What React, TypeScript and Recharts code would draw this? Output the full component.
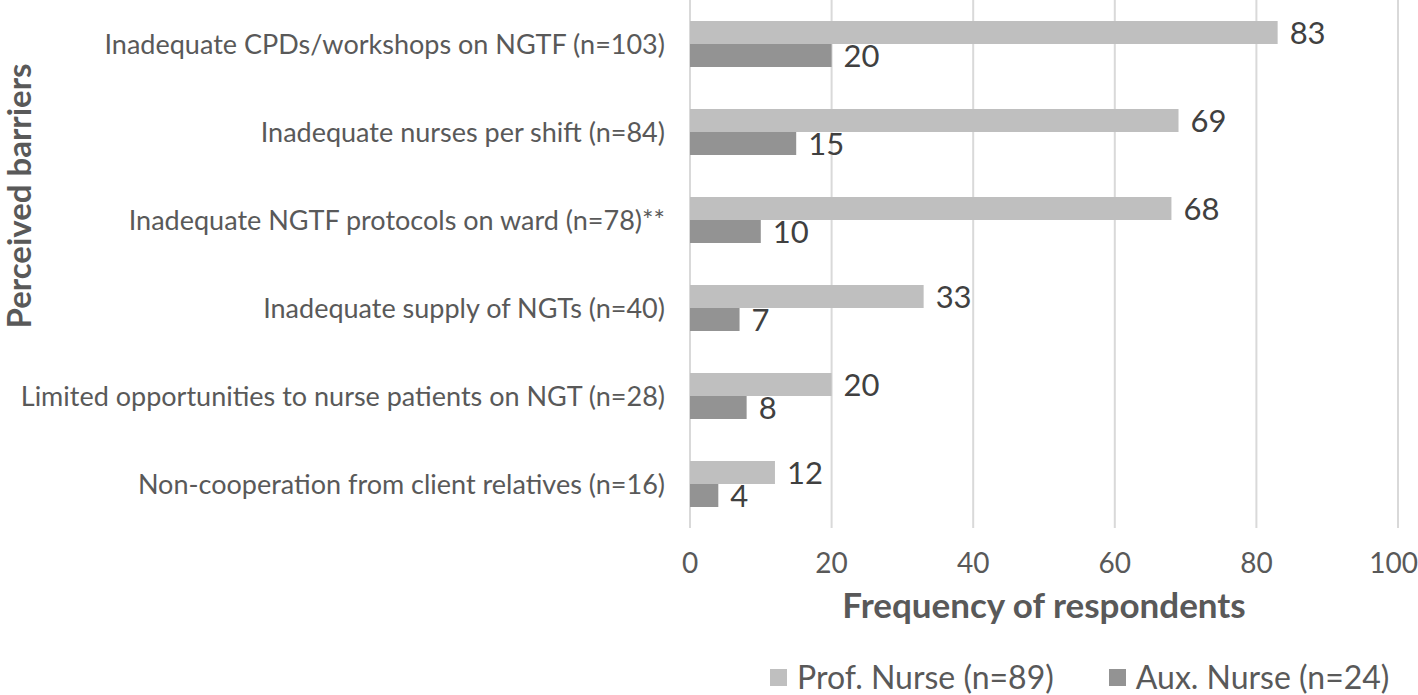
import { BarChart, Bar, XAxis, YAxis, CartesianGrid, LabelList, Legend, Label } from "recharts"

const categories = [
  "Inadequate CPDs/workshops on NGTF (n=103)",
  "Inadequate nurses per shift (n=84)",
  "Inadequate NGTF protocols on ward (n=78)**",
  "Inadequate supply of NGTs (n=40)",
  "Limited opportunities to nurse patients on NGT (n=28)",
  "Non-cooperation from client relatives (n=16)",
]
const profNurse = [83, 69, 68, 33, 20, 12]
const auxNurse = [20, 15, 10, 7, 8, 4]
const xTicks = [0, 20, 40, 60, 80, 100]

const PROF = "#bfbfbf"
const AUX = "#939393"
const FONT = "Lato, 'Open Sans', sans-serif"

const data = categories.map((name, i) => ({ name, prof: profNurse[i], aux: auxNurse[i] }))

function LegendBox() {
  const items = [
    { label: "Prof. Nurse (n=89)", color: PROF },
    { label: "Aux. Nurse (n=24)", color: AUX },
  ]
  return (
    <div style={{ display: "flex", gap: 55, fontFamily: FONT, fontSize: 32, lineHeight: "36px", color: "#595959", whiteSpace: "nowrap" }}>
      {items.map((it) => (
        <div key={it.label} style={{ display: "flex", alignItems: "center", gap: 10 }}>
          <span style={{ width: 17, height: 17, background: it.color, display: "inline-block" }} />
          <span>{it.label}</span>
        </div>
      ))}
    </div>
  )
}

export default function App() {
  return (
    <div style={{ position: "absolute", left: 0, top: 0, background: "#fff" }}>
      <BarChart
        width={1418}
        height={695}
        data={data}
        layout="vertical"
        margin={{ top: 0, right: 20, bottom: 0, left: 0 }}
        barSize={23}
        barGap={0}
      >
        <CartesianGrid horizontal={false} stroke="#d9d9d9" strokeWidth={2} />
        <XAxis
          type="number"
          domain={[0, 100]}
          ticks={xTicks}
          axisLine={false}
          tickLine={false}
          height={167}
          tickMargin={19}
          tick={{ fontSize: 28, fill: "#595959", fontFamily: FONT }}
        >
          <Label
            value="Frequency of respondents"
            position="insideTop"
            offset={65}
            style={{ fontSize: 35, fontWeight: 700, fill: "#595959", fontFamily: FONT }}
          />
        </XAxis>
        <YAxis
          type="category"
          dataKey="name"
          width={690}
          axisLine={false}
          tickLine={false}
          tickMargin={19}
          interval={0}
          tick={{ fontSize: 27, fill: "#595959", fontFamily: FONT }}
        />
        <Legend
          verticalAlign="middle"
          layout="horizontal"
          content={<LegendBox />}
          wrapperStyle={{ left: 770, top: 659, width: 648 }}
        />
        <Bar dataKey="prof" name="Prof. Nurse (n=89)" fill={PROF} isAnimationActive={false}>
          <LabelList dataKey="prof" position="right" offset={12} style={{ fontSize: 31, fill: "#404040", fontFamily: FONT }} />
        </Bar>
        <Bar dataKey="aux" name="Aux. Nurse (n=24)" fill={AUX} isAnimationActive={false}>
          <LabelList dataKey="aux" position="right" offset={12} style={{ fontSize: 31, fill: "#404040", fontFamily: FONT }} />
        </Bar>
      </BarChart>
      <div
        style={{
          position: "absolute",
          left: 18,
          top: 196,
          transform: "translate(-50%, -50%) rotate(-90deg)",
          whiteSpace: "nowrap",
          fontFamily: FONT,
          fontSize: 33,
          lineHeight: "34px",
          fontWeight: 700,
          color: "#595959",
        }}
      >
        Perceived barriers
      </div>
    </div>
  )
}
